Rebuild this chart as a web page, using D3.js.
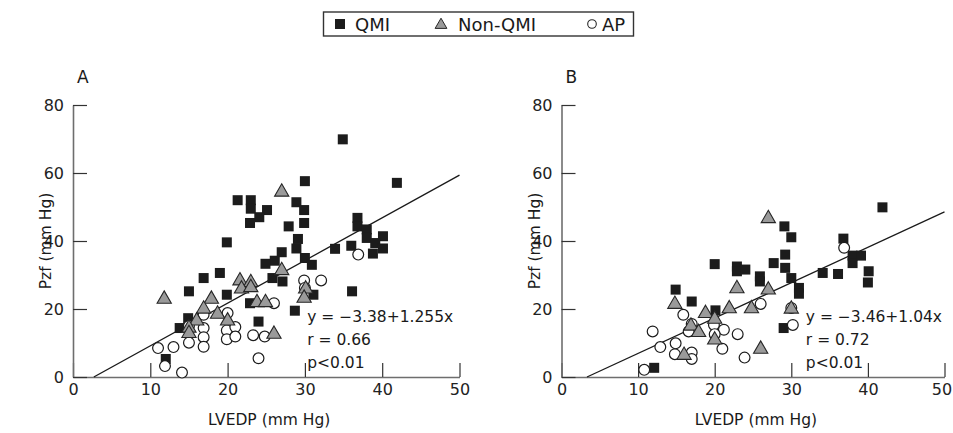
<!DOCTYPE html>
<html>
<head>
<meta charset="utf-8">
<script src="https://cdn.jsdelivr.net/npm/d3@7"></script>
<style>
  html, body { margin: 0; padding: 0; background: #fff; }
  svg { display: block; font-family: "DejaVu Sans", sans-serif; }
</style>
</head>
<body>
<svg id="chart" width="953" height="433"></svg>
<script>
// LVEDP (x) vs Pzf (y), mm Hg — panel A
const qmiA = [
  [34.9,69.9],[30.0,57.6],[41.9,57.1],[21.3,52.0],[23.0,52.0],[23.0,49.5],[25.1,49.1],
  [28.9,51.4],[29.9,49.1],[24.1,47.0],[22.9,45.3],[29.9,45.3],[27.9,44.3],[36.8,46.8],
  [36.8,44.3],[38.0,43.4],[38.0,40.9],[40.1,41.4],[39.1,39.4],[40.1,37.8],[38.8,36.3],
  [36.0,38.6],[33.9,37.7],[19.9,39.6],[29.1,40.6],[28.9,37.8],[27.0,36.7],[30.0,35.0],
  [30.9,33.0],[26.1,34.2],[24.9,33.3],[19.0,30.6],[16.9,29.1],[25.8,29.1],[27.1,28.1],
  [36.1,25.2],[19.9,24.2],[31.1,24.2],[28.7,19.5],[24.0,16.3],[15.0,25.2],[22.9,21.7],
  [14.9,17.3],[13.8,14.4],[12.0,5.3]
];
const nonQmiA = [
  [27.0,54.7],[27.0,31.6],[21.6,28.6],[23.0,28.1],[21.8,26.2],[23.0,26.6],[17.9,23.2],
  [11.8,23.2],[30.1,26.2],[29.9,23.5],[23.8,22.2],[24.9,22.2],[26.0,12.9],[16.9,20.3],
  [18.7,18.8],[16.0,16.8],[15.0,14.7],[15.0,13.1],[20.0,16.8]
];
const apA = [
  [36.9,36.0],[29.9,28.4],[32.1,28.4],[30.0,26.2],[26.0,21.7],[23.3,12.3],[24.8,11.9],
  [24.0,5.5],[20.0,18.8],[16.9,18.3],[16.9,14.4],[16.9,11.7],[16.9,8.9],[19.9,13.7],
  [19.9,11.1],[21.0,14.7],[21.0,11.9],[15.0,10.1],[13.0,8.8],[11.0,8.5],[11.9,3.2],
  [14.1,1.3],[15.0,15.0]
];

// panel B
const qmiB = [
  [41.9,49.9],[29.1,44.3],[30.0,41.1],[36.8,40.7],[20.0,33.2],[22.9,32.5],[22.9,31.1],
  [24.0,31.6],[14.9,25.7],[17.0,22.2],[20.1,19.6],[12.1,2.7],[29.2,36.0],[27.7,33.5],
  [29.2,32.1],[25.9,29.6],[25.9,28.1],[30.0,29.1],[31.0,26.2],[31.0,24.5],[34.1,30.6],
  [36.1,30.3],[38.0,35.7],[38.0,33.5],[39.1,35.7],[40.1,31.1],[40.0,27.8],[29.0,14.4]
];
const nonQmiB = [
  [27.0,46.9],[22.9,26.3],[14.8,21.7],[18.8,19.0],[21.9,20.4],[20.0,17.3],[16.9,15.3],
  [17.9,13.4],[20.0,11.2],[16.0,6.7],[24.8,20.4],[27.0,25.9],[30.0,20.3],[26.0,8.5]
];
const apB = [
  [15.9,18.3],[17.0,15.6],[16.6,13.4],[11.9,13.4],[19.9,15.3],[21.2,13.9],[20.0,12.6],
  [23.0,12.6],[12.9,8.8],[14.9,9.9],[14.8,6.7],[17.0,7.2],[17.0,5.3],[21.0,8.3],
  [23.9,5.7],[10.8,2.1],[36.9,38.0],[26.0,21.5],[30.0,20.3],[30.2,15.3]
];

// fitted lines and statistics
const fitA = { a: -3.38, b: 1.255, lines: ["y = \u22123.38+1.255x", "r = 0.66", "p<0.01"] };
const fitB = { a: -3.46, b: 1.04,  lines: ["y = \u22123.46+1.04x",  "r = 0.72", "p<0.01"] };

const xTicks = [0, 10, 20, 30, 40, 50];
const yTicks = [0, 20, 40, 60, 80];
const legendItems = ["QMI", "Non-QMI", "AP"];

const svg = d3.select("#chart");

const axisColor = "#6e6e6e";
const tri = d3.symbol().type(d3.symbolTriangle).size(88);

function drawPanel(opt) {
  const x = d3.scaleLinear().domain([0, 50]).range([opt.x0, opt.x1]);
  const y = d3.scaleLinear().domain([0, 80]).range([377, 105]);
  const g = svg.append("g");

  const gx = g.append("g").attr("transform", `translate(0,${y(0)})`)
    .call(d3.axisBottom(x).tickValues(xTicks).tickSizeInner(-14).tickSizeOuter(0).tickPadding(7));
  const gy = g.append("g").attr("transform", `translate(${x(0)},0)`)
    .call(d3.axisLeft(y).tickValues(yTicks).tickSizeInner(-14).tickSizeOuter(0).tickPadding(9));
  [gx, gy].forEach(a => {
    a.attr("font-size", null).attr("font-family", null);
    a.select(".domain").attr("stroke", axisColor).attr("stroke-width", 1.6);
    a.selectAll(".tick line").attr("stroke", "#333").attr("stroke-width", 1.2);
    a.selectAll(".tick text").attr("fill", "#222").style("font-size", "16px");
  });
  // keep the last x label inside the page edge
  gx.selectAll(".tick text").filter(d => d === 50).attr("dx", opt.lastDx || 0);

  // regression line from the x-intercept to x = 50
  const xStart = -opt.fit.a / opt.fit.b;
  g.append("line")
    .attr("x1", x(xStart)).attr("y1", y(0))
    .attr("x2", x(50)).attr("y2", y(opt.fit.a + opt.fit.b * 50))
    .attr("stroke", "#1a1a1a").attr("stroke-width", 1.3);

  g.selectAll("rect.qmi").data(opt.qmi).join("rect").attr("class", "qmi")
    .attr("x", d => x(d[0]) - 5).attr("y", d => y(d[1]) - 5)
    .attr("width", 10).attr("height", 10).attr("fill", "#1c1c1c");

  g.selectAll("circle.ap").data(opt.ap).join("circle").attr("class", "ap")
    .attr("cx", d => x(d[0])).attr("cy", d => y(d[1])).attr("r", 5.4)
    .attr("fill", "#fff").attr("stroke", "#1c1c1c").attr("stroke-width", 1.2);

  g.selectAll("path.nq").data(opt.nonQmi).join("path").attr("class", "nq")
    .attr("d", tri).attr("transform", d => `translate(${x(d[0])},${y(d[1]) + 1})`)
    .attr("fill", "#9a9a9a").attr("stroke", "#262626").attr("stroke-width", 1.1);

  // statistics
  const tx = x(opt.statX);
  opt.fit.lines.forEach((t, i) => {
    g.append("text").attr("x", tx).attr("y", 322 + i * 23)
      .attr("fill", "#1a1a1a").style("font-size", "15.5px").text(t);
  });

  // axis titles and panel letter
  g.append("text").attr("x", (opt.x0 + opt.x1) / 2 + 3).attr("y", 425)
    .attr("text-anchor", "middle").attr("fill", "#1a1a1a").style("font-size", "15.5px")
    .text("LVEDP (mm Hg)");
  g.append("text").attr("transform", `translate(${opt.x0 - 22},${241}) rotate(-90)`)
    .attr("text-anchor", "middle").attr("fill", "#1a1a1a").style("font-size", "15.5px")
    .text("Pzf (mm Hg)");
  g.append("text").attr("x", opt.x0 + 4).attr("y", 83)
    .attr("fill", "#1a1a1a").style("font-size", "17px").text(opt.letter);
}

drawPanel({ x0: 73, x1: 459.5, qmi: qmiA, nonQmi: nonQmiA, ap: apA, fit: fitA, statX: 30.3, letter: "A" });
drawPanel({ x0: 561.5, x1: 944.5, qmi: qmiB, nonQmi: nonQmiB, ap: apB, fit: fitB, statX: 31.9, letter: "B", lastDx: -3 });

// legend
const lg = svg.append("g");
lg.append("rect").attr("x", 323.5).attr("y", 12).attr("width", 310).attr("height", 24)
  .attr("fill", "#fff").attr("stroke", "#333").attr("stroke-width", 1.4);
const legendPos = [340, 441, 592];
const legendText = [355, 458, 602];
lg.append("rect").attr("x", legendPos[0] - 5).attr("y", 24 - 5).attr("width", 10).attr("height", 10).attr("fill", "#1c1c1c");
lg.append("path").attr("d", d3.symbol().type(d3.symbolTriangle).size(60))
  .attr("transform", `translate(${legendPos[1]},25)`).attr("fill", "#9a9a9a").attr("stroke", "#262626").attr("stroke-width", 1);
lg.append("circle").attr("cx", legendPos[2]).attr("cy", 24).attr("r", 4.3).attr("fill", "#fff").attr("stroke", "#262626").attr("stroke-width", 1.1);
legendItems.forEach((t, i) => {
  lg.append("text").attr("x", legendText[i]).attr("y", 30.5).attr("fill", "#1a1a1a")
    .style("font-size", "18px").text(t);
});
</script>
</body>
</html>
